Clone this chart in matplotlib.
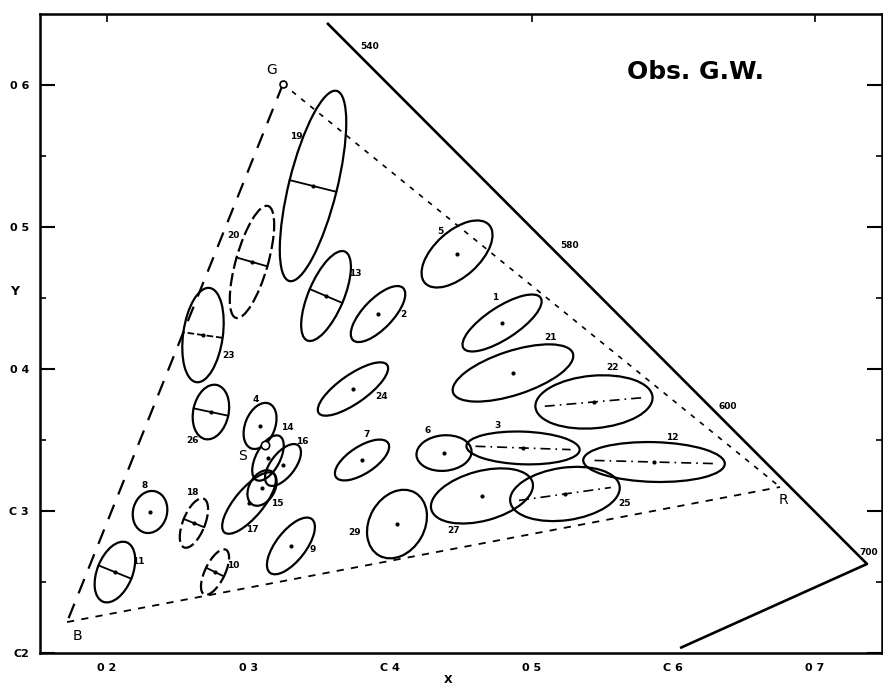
import numpy as np
import matplotlib
matplotlib.use('Agg')
import matplotlib.pyplot as plt
from matplotlib.patches import Ellipse

# ellipse data (x, y chromaticity, full axis lengths, tilt in deg)
names = ['19', '20', '23', '26', '13', '2', '24', '5', '1', '21', '22', '6', '3', '7',
         '12', '27', '25', '29', '4', '14', '16', '15', '17', '8', '18', '11', '10', '9']
cx = [0.3455, 0.3024, 0.2678, 0.2734, 0.3547, 0.3914, 0.3737, 0.4472, 0.4790, 0.4867,
      0.5439, 0.4380, 0.4938, 0.3801, 0.5863, 0.4648, 0.5234, 0.4048, 0.3081, 0.3137,
      0.3243, 0.3095, 0.3003, 0.2304, 0.2614, 0.2056, 0.2763, 0.3299]
cy = [0.5289, 0.4754, 0.4239, 0.3697, 0.4514, 0.4387, 0.3859, 0.4810, 0.4324, 0.3972,
      0.3768, 0.3408, 0.3444, 0.3359, 0.3345, 0.3106, 0.3120, 0.2908, 0.3599, 0.3373,
      0.3324, 0.3162, 0.3056, 0.2993, 0.2915, 0.2570, 0.2570, 0.2754]
major = [0.138, 0.082, 0.067, 0.039, 0.068, 0.051, 0.059, 0.061, 0.065, 0.089,
         0.083, 0.039, 0.080, 0.044, 0.100, 0.074, 0.078, 0.051, 0.034, 0.035,
         0.035, 0.027, 0.054, 0.030, 0.037, 0.045, 0.035, 0.048]
minor = [0.034, 0.0226, 0.028, 0.025, 0.025, 0.021, 0.020, 0.032, 0.0226, 0.031,
         0.037, 0.025, 0.023, 0.019, 0.028, 0.035, 0.037, 0.039, 0.021, 0.017,
         0.017, 0.018, 0.020, 0.024, 0.0155, 0.025, 0.014, 0.021]
tilt = [76, 74, 82, 78, 67, 46, 35, 42, 33, 18, 5, 5, -2, 33, -1.5, 15, 8, 60, 68, 62,
        52, 60, 50, 75, 68, 68, 64, 52]
axis_mark = ['minor', 'minor', 'minor_dash', 'minor', 'minor', 'dot', 'dot', 'dot', 'dot', 'dot',
             'major', 'dot', 'major', 'dot', 'major', 'dot', 'major', 'dot', 'dot', 'dot',
             'dot', 'dot', 'dot', 'dot', 'minor', 'minor', 'minor', 'dot']
ell_dashed = ['20', '18', '10']

lab_x = [0.3335, 0.2890, 0.2855, 0.2607, 0.3751, 0.4090, 0.3942, 0.4352, 0.4740, 0.5129,
         0.5573, 0.4267, 0.4761, 0.3836, 0.5990, 0.4444, 0.5658, 0.3751, 0.3052, 0.3271,
         0.3377, 0.3201, 0.3024, 0.2268, 0.2600, 0.2219, 0.2890, 0.3455]
lab_y = [0.5634, 0.4937, 0.4092, 0.3500, 0.4676, 0.4387, 0.3803, 0.4965, 0.4500, 0.4225,
         0.4014, 0.3570, 0.3599, 0.3542, 0.3521, 0.2866, 0.3056, 0.2852, 0.3782, 0.3585,
         0.3486, 0.3056, 0.2873, 0.3183, 0.3127, 0.2641, 0.2613, 0.2732]

# spectrum locus and purple line
locus_x = [0.3554, 0.7367, 0.6047]
locus_y = [0.6437, 0.2627, 0.2035]
wl_labels = ['540', '580', '600', '700']
wl_x = [0.3857, 0.5270, 0.6386, 0.7380]
wl_y = [0.6268, 0.4873, 0.3739, 0.2711]

# primaries and white point
prim = {'G': (0.3243, 0.6007), 'R': (0.6753, 0.3169), 'B': (0.1718, 0.2218)}
prim_lab = {'G': (0.3165, 0.6106), 'R': (0.6774, 0.3077), 'B': (0.1788, 0.2120)}
white = (0.3116, 0.3465)
white_lab = (0.2960, 0.3387)

xticks = [0.2, 0.3, 0.4, 0.5, 0.6, 0.7]
xtick_labels = ['0 2', '0 3', 'C 4', '0 5', 'C 6', '0 7']
yticks = [0.2, 0.3, 0.4, 0.5, 0.6]
ytick_labels = ['C2', 'C 3', '0 4', '0 5', '0 6']

fig = plt.figure(figsize=(8.83, 6.85), dpi=100)
ax = fig.add_axes([40/883, 32/685, 842/883, 639/685])
ax.set_xlim(0.1527, 0.7473)
ax.set_ylim(0.2, 0.65)

# triangle
G, R, B = prim['G'], prim['R'], prim['B']
ax.plot([G[0], B[0]], [G[1], B[1]], color='k', lw=1.6, ls=(0, (7, 5)))
ax.plot([G[0], R[0]], [G[1], R[1]], color='k', lw=1.2, ls=(0, (3, 4)))
ax.plot([B[0], R[0]], [B[1], R[1]], color='k', lw=1.3, ls=(0, (4, 4)))
ax.plot(G[0], G[1], 'o', mfc='white', mec='k', ms=5, mew=1.2)
for k in prim_lab:
    ax.text(prim_lab[k][0], prim_lab[k][1], k, fontsize=10, ha='center', va='center')

# spectrum locus
ax.plot(locus_x, locus_y, color='k', lw=1.9, solid_capstyle='butt')
for t, x, y in zip(wl_labels, wl_x, wl_y):
    ax.text(x, y, t, fontsize=6.5, fontweight='bold', ha='center', va='center')

# ellipses
for i in range(len(names)):
    ls = (0, (6, 2)) if names[i] in ell_dashed else '-'
    e = Ellipse((cx[i], cy[i]), major[i], minor[i], angle=tilt[i], fill=False,
                edgecolor='k', lw=1.6, ls=ls)
    ax.add_patch(e)
    th = np.radians(tilt[i])
    if axis_mark[i].startswith('minor'):
        dx, dy = -np.sin(th) * minor[i] / 2, np.cos(th) * minor[i] / 2
        ax.plot([cx[i] - dx, cx[i] + dx], [cy[i] - dy, cy[i] + dy], color='k', lw=1.3,
                ls='--' if axis_mark[i] == 'minor_dash' else '-')
    elif axis_mark[i] == 'major':
        dx, dy = np.cos(th) * major[i] * 0.42, np.sin(th) * major[i] * 0.42
        ax.plot([cx[i] - dx, cx[i] + dx], [cy[i] - dy, cy[i] + dy], color='k', lw=1.2,
                ls=(0, (6, 3, 1, 3)))
    ax.text(lab_x[i], lab_y[i], names[i], fontsize=6.5, fontweight='bold',
            ha='center', va='center')
ax.plot(cx, cy, 'k.', ms=4)

# white point
ax.plot(white[0], white[1], 'o', mfc='white', mec='k', ms=6, mew=1.2)
ax.text(white_lab[0], white_lab[1], 'S', fontsize=10, ha='center', va='center')

ax.text(0.6153, 0.6092, 'Obs. G.W.', fontsize=18, fontweight='semibold',
        ha='center', va='center')

# axes styling
for s in ax.spines.values():
    s.set_linewidth(1.8)
ax.set_xticks(xticks)
ax.set_xticklabels(xtick_labels, fontsize=8, fontweight='bold')
ax.set_yticks(yticks)
ax.set_yticklabels(ytick_labels, fontsize=8, fontweight='bold')
ax.set_yticks([0.25, 0.35, 0.45, 0.55], minor=True)
ax.tick_params(axis='x', length=0, pad=7)
ax.tick_params(axis='y', which='major', direction='in', length=11, width=1.5,
               right=True, pad=8)
ax.tick_params(axis='y', which='minor', direction='in', length=4, width=1.2, right=True)
top = ax.secondary_xaxis('top')
top.set_xticks([0.2, 0.5, 0.7])
top.tick_params(direction='in', length=6, width=1.2, labeltop=False)
ax.set_xlabel('X', fontsize=8, fontweight='bold', va='center')
ax.xaxis.set_label_coords(0.485, -0.042)
ax.set_ylabel('Y', fontsize=9, fontweight='bold', rotation=0)
ax.yaxis.set_label_coords(-0.03, 0.556)

fig.savefig('out.png', dpi=100)
